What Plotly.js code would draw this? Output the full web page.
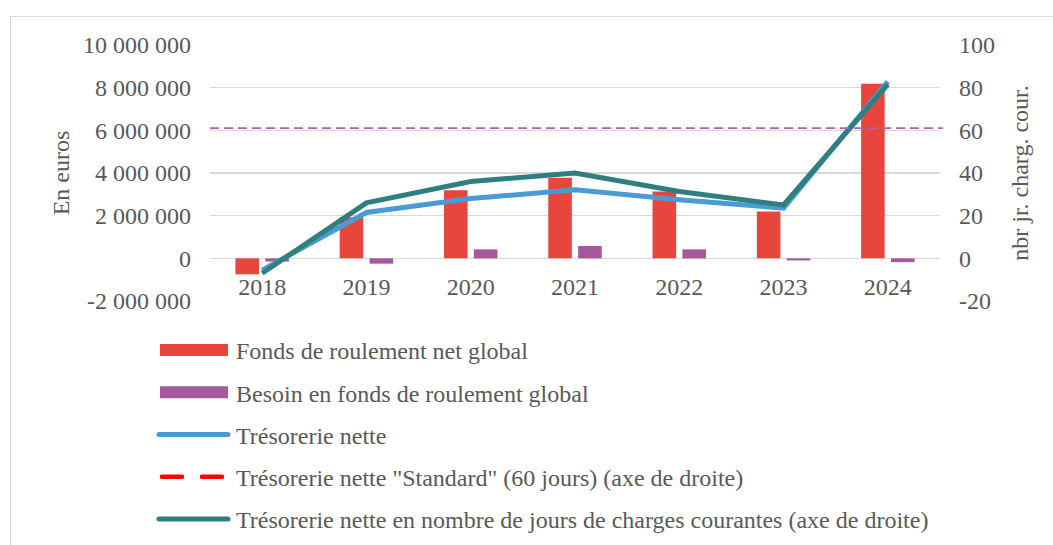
<!DOCTYPE html>
<html>
<head>
<meta charset="utf-8">
<script src="https://cdn.plot.ly/plotly-3.0.1.min.js"></script>
<style>
  html, body { margin: 0; padding: 0; background: #ffffff; overflow: hidden; width: 1053px; height: 545px; }
  #chart { position: absolute; left: 0; top: 0; width: 1053px; height: 575px; }
  #frame { position: absolute; left: 10px; top: 16px; width: 1100px; height: 600px;
           border: 1px solid #d9d9d9; pointer-events: none; box-sizing: border-box; }
</style>
</head>
<body>
<div id="chart"></div>
<div id="frame"></div>
<script>
// ---- data ----
var YEARS = ['2018', '2019', '2020', '2021', '2022', '2023', '2024'];
var FRNG = [-750000, 1920000, 3190000, 3780000, 3130000, 2190000, 8180000];   // Fonds de roulement net global (€)
var BFRG = [-150000, -250000, 420000, 580000, 420000, -100000, -180000];     // Besoin en fonds de roulement global (€)
var TRESO = [-550000, 2150000, 2800000, 3210000, 2750000, 2350000, 8280000]; // Trésorerie nette (€)
var TRESO_DAYS = [-7, 26, 36, 40, 31.3, 25, 81.5];                          // jours de charges courantes
var STANDARD_DAYS = [61];                                                    // Trésorerie nette "Standard"

var NAMES = [
  'Fonds de roulement net global',
  'Besoin en fonds de roulement global',
  'Trésorerie nette',
  'Trésorerie nette "Standard" (60 jours) (axe de droite)',
  'Trésorerie nette en nombre de jours de charges courantes (axe de droite)'
];

var LEFT_TICK_VALUES = [-2000000, 0, 2000000, 4000000, 6000000, 8000000, 10000000];
var LEFT_TICK_LABELS = ['-2 000 000', '0', '2 000 000', '4 000 000', '6 000 000', '8 000 000', '10 000 000'];
var RIGHT_TICK_VALUES = [-20, 0, 20, 40, 60, 80, 100];
var RIGHT_TICK_LABELS = ['-20', '0', '20', '40', '60', '80', '100'];

var LEFT_RANGE = [-2000000, 10000000];
var RIGHT_RANGE = [-20, 100];

// ---- styling ----
var FONT = 'Liberation Serif, Times New Roman, serif';
var FS = 24;
var TXT = '#595959';
var RED = '#e8453c';
var PURPLE = '#a5589b';
var BLUE = '#4b9bd3';
var TEAL = '#2f7f80';
var GRID = '#d9d9d9';
var LW = 5;

var data = [
  { type: 'bar', x: YEARS, y: FRNG, name: NAMES[0], legendgroup: 'g1',
    marker: { color: RED }, yaxis: 'y', xaxis: 'x' },
  { type: 'bar', x: YEARS, y: BFRG, name: NAMES[1], legendgroup: 'g2',
    marker: { color: PURPLE }, yaxis: 'y', xaxis: 'x' },
  { type: 'scatter', mode: 'lines', x: YEARS, y: TRESO, name: NAMES[2], legendgroup: 'g3',
    line: { color: BLUE, width: LW }, yaxis: 'y', xaxis: 'x' },
  { type: 'scatter', mode: 'lines', x: [null], y: [null], name: NAMES[3], legendgroup: 'g4',
    line: { color: '#ff0000', width: 4.5, dash: '20px,20px' }, yaxis: 'y2', xaxis: 'x' },
  { type: 'scatter', mode: 'lines', x: YEARS, y: TRESO_DAYS, name: NAMES[4], legendgroup: 'g5',
    line: { color: TEAL, width: LW }, yaxis: 'y2', xaxis: 'x' }
];

var zeroFrac = (0 - LEFT_RANGE[0]) / (LEFT_RANGE[1] - LEFT_RANGE[0]);

var layout = {
  width: 1053, height: 575,
  margin: { l: 210, r: 113, t: 45, b: 274, pad: 0 },
  paper_bgcolor: 'rgba(0,0,0,0)',
  plot_bgcolor: 'rgba(0,0,0,0)',
  font: { family: FONT, size: FS, color: TXT },
  barmode: 'group',
  bargap: 0.427,
  bargroupgap: 0.21,
  showlegend: true,
  legend: {
    xref: 'paper', yref: 'paper',
    x: -0.074, y: -0.1055, xanchor: 'left', yanchor: 'top',
    font: { family: FONT, size: FS, color: TXT },
    itemwidth: 70, tracegroupgap: 8, bgcolor: 'rgba(0,0,0,0)', borderwidth: 0
  },
  xaxis: {
    type: 'category', categoryorder: 'array', categoryarray: YEARS,
    anchor: 'free', position: zeroFrac, automargin: false, tickangle: 0,
    showgrid: false, zeroline: false, showline: false, ticks: '',
    ticklabelstandoff: 12,
    tickfont: { family: FONT, size: FS, color: TXT },
    fixedrange: true
  },
  yaxis: {
    range: LEFT_RANGE, tickvals: LEFT_TICK_VALUES, ticktext: LEFT_TICK_LABELS, automargin: false,
    showgrid: true, gridcolor: GRID, gridwidth: 1.5, zeroline: false, showline: false, ticks: '',
    ticklabelstandoff: 18,
    tickfont: { family: FONT, size: FS, color: TXT },
    title: { text: 'En euros', font: { family: FONT, size: FS, color: TXT }, standoff: 6 },
    fixedrange: true
  },
  yaxis2: {
    overlaying: 'y', side: 'right', range: RIGHT_RANGE, automargin: false,
    tickvals: RIGHT_TICK_VALUES, ticktext: RIGHT_TICK_LABELS,
    showgrid: false, zeroline: false, showline: false, ticks: '',
    ticklabelstandoff: 18,
    tickfont: { family: FONT, size: FS, color: TXT },
    title: { text: 'nbr jr. charg. cour.', font: { family: FONT, size: FS, color: TXT }, standoff: 17 },
    fixedrange: true
  },
  shapes: [{
    type: 'line', xref: 'paper', yref: 'y2',
    x0: 0, x1: 1.004, y0: STANDARD_DAYS[0], y1: STANDARD_DAYS[0],
    line: { color: '#b360b3', width: 1.8, dash: '9px,5px' }, layer: 'above'
  }]
};

function fixLegend(gd) {
  var items = gd.querySelectorAll('.legend .traces');
  items.forEach(function (it, i) {
    var pts = it.querySelectorAll('.legendpoints path');
    if (i < 2) {
      pts.forEach(function (p) { p.setAttribute('d', 'M4,6H72V-6H4Z'); p.setAttribute('transform', ''); });
    }
    var lines = it.querySelectorAll('.legendlines path');
    lines.forEach(function (p) {
      if (i === 3) { p.setAttribute('d', 'M6,0h60'); }
      else { p.setAttribute('d', 'M3,0h69'); }
      p.style.strokeLinecap = 'round';
    });
  });
}

Plotly.newPlot('chart', data, layout, { staticPlot: true, displayModeBar: false }).then(function (gd) {
  fixLegend(gd);
  gd.on('plotly_afterplot', function () { fixLegend(gd); });
  setTimeout(function () { fixLegend(gd); }, 50);
});
</script>
</body>
</html>
